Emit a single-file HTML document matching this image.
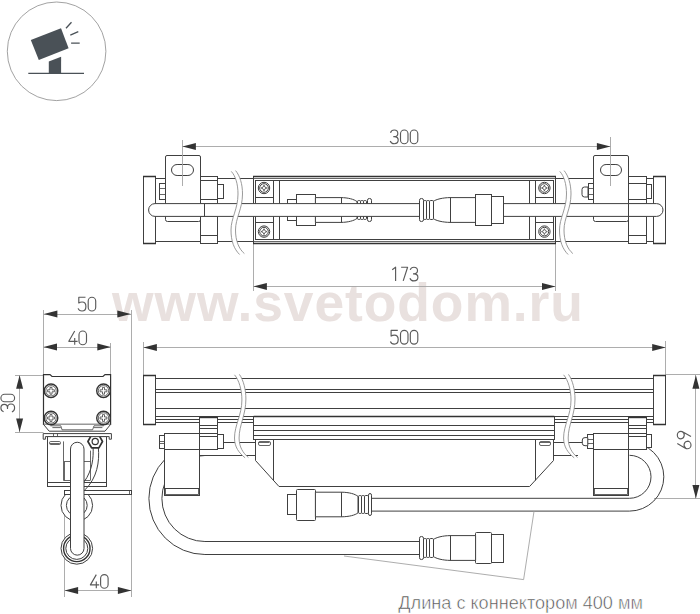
<!DOCTYPE html>
<html><head><meta charset="utf-8"><title>drawing</title>
<style>
html,body{margin:0;padding:0;background:#fff;}
body{width:700px;height:614px;overflow:hidden;font-family:"Liberation Sans",sans-serif;}
svg{display:block}
.m{fill:none;stroke:#404040;stroke-width:1;}
.k{fill:none;stroke:#333;stroke-width:1.4;}
.n{fill:none;stroke:#404040;stroke-width:0.8;}
.w{fill:#fff;}
.d{fill:none;stroke:#a4a4a4;stroke-width:0.9;}
.b{fill:none;stroke:#8e8e8e;stroke-width:0.9;}
</style></head><body>
<svg width="700" height="614" viewBox="0 0 700 614">
<rect width="700" height="614" fill="#fff"/>

<text x="112.1" y="321.4" font-family="Liberation Sans, sans-serif" font-weight="bold" font-size="53.4" fill="#e9e1df" textLength="470.8" lengthAdjust="spacing">www.svetodom.ru</text>
<circle cx="56.6" cy="51.3" r="49.3" fill="none" stroke="#8a8a8a" stroke-width="0.8"/>
<polygon points="48.8,73.6 48.8,61.5 61.1,56.7 61.1,73.6" fill="#4a5157"/>
<polygon points="30.8,39.9 61,28.2 68.6,48.3 38.8,60" fill="#4a5157"/>
<path d="M28.3,73.4H84" stroke="#4a5157" stroke-width="1.2" fill="none"/>
<path d="M66,28.3L71.5,22.3M70.3,35.1L78.3,31.7M71.1,43.2H79.7" stroke="#4a5157" stroke-width="1.3" fill="none"/>
<line class="d" x1="182.4" y1="146.5" x2="610.4" y2="146.5"/>
<line class="d" x1="253.5" y1="243" x2="253.5" y2="291"/>
<line class="d" x1="555.5" y1="243" x2="555.5" y2="291"/>
<line class="d" x1="253.4" y1="286.5" x2="555.5" y2="286.5"/>
<line class="m" x1="155.4" y1="178.5" x2="253.4" y2="178.5"/>
<line class="m" x1="155.4" y1="241.5" x2="253.4" y2="241.5"/>
<line class="m" x1="555.6" y1="178.5" x2="653.4" y2="178.5"/>
<line class="m" x1="555.6" y1="241.5" x2="653.4" y2="241.5"/>
<rect class="m w" x="143.5" y="176.5" width="12.00" height="67.00"/>
<path class="k" d="M143.0,176.5H156.0M143.0,243.5H156.0" style="stroke-width:1.6"/>
<rect class="m w" x="653.5" y="176.5" width="12.00" height="67.00"/>
<path class="k" d="M653.0,176.5H666.0M653.0,243.5H666.0" style="stroke-width:1.6"/>
<rect class="m w" x="159.5" y="183.5" width="6.00" height="16.00"/>
<line class="n" x1="159.4" y1="188.5" x2="165" y2="188.5"/>
<line class="n" x1="159.4" y1="194.5" x2="165" y2="194.5"/>
<path class="m w" d="M167,155.5H199Q200.5,155.5 200.5,157V220Q200.5,221.5 198.5,221.5H167.5Q165.5,221.5 165.5,219.5V157Q165.5,155.5 167,155.5Z"/>
<rect class="m w" x="171.5" y="164.5" width="22.00" height="11.00" rx="5.6"/>
<rect class="m w" x="200.5" y="176.5" width="17.00" height="27.00"/>
<line class="m" x1="200" y1="180.5" x2="217.4" y2="180.5"/>
<line class="m" x1="200" y1="199.5" x2="217.4" y2="199.5"/>
<rect class="m w" x="217.5" y="184.5" width="6.00" height="14.00"/>
<rect class="m w" x="200.5" y="216.5" width="17.00" height="27.00"/>
<line class="m" x1="200" y1="235.5" x2="217.4" y2="235.5"/>
<path class="m w" d="M588,187H584.5Q582,187 582,189.5V194.5Q582,197 584.5,197H588Z"/>
<rect class="m w" x="588.5" y="183.5" width="5.00" height="16.00"/>
<line class="n" x1="588" y1="188.5" x2="593" y2="188.5"/>
<line class="n" x1="588" y1="194.5" x2="593" y2="194.5"/>
<path class="m w" d="M595,155.5H627Q628.5,155.5 628.5,157V219.5Q628.5,221.5 626.5,221.5H595.5Q593.5,221.5 593.5,219.5V157Q593.5,155.5 595,155.5Z"/>
<rect class="m w" x="600.5" y="164.5" width="21.00" height="11.00" rx="5.6"/>
<rect class="m w" x="628.5" y="176.5" width="18.00" height="27.00"/>
<line class="m" x1="628.6" y1="183.5" x2="646" y2="183.5"/>
<line class="m" x1="628.6" y1="199.5" x2="646" y2="199.5"/>
<rect class="m w" x="646.5" y="184.5" width="5.00" height="14.00"/>
<rect class="m w" x="628.5" y="216.5" width="18.00" height="27.00"/>
<line class="m" x1="628.6" y1="235.5" x2="646" y2="235.5"/>
<rect class="m w" x="253.5" y="176.5" width="302.00" height="67.00"/>
<path class="k" d="M253.0,176.5H556.0M253.0,243.5H556.0" style="stroke-width:1.6"/>
<rect class="m" x="255.5" y="180.5" width="298.00" height="59.00"/>
<line class="n" x1="254" y1="178.5" x2="555" y2="178.5"/>
<line class="n" x1="254" y1="241.5" x2="555" y2="241.5"/>
<line class="m" x1="273.5" y1="180" x2="273.5" y2="239.4"/>
<line class="m" x1="279.5" y1="180" x2="279.5" y2="239.4"/>
<line class="m" x1="255" y1="197.5" x2="273.3" y2="197.5"/>
<line class="m" x1="255" y1="222.5" x2="273.3" y2="222.5"/>
<line class="m" x1="529.5" y1="180" x2="529.5" y2="239.4"/>
<line class="m" x1="535.5" y1="180" x2="535.5" y2="239.4"/>
<line class="m" x1="535" y1="197.5" x2="553.8" y2="197.5"/>
<line class="m" x1="535" y1="222.5" x2="553.8" y2="222.5"/>
<circle class="m w" cx="264" cy="188" r="5.7"/>
<circle class="m" cx="264" cy="188" r="4.3"/>
<path class="n" d="M264,185.1L264.9,187.1L266.9,188L264.9,188.9L264,190.9L263.1,188.9L261.1,188L263.1,187.1Z"/>
<circle class="m w" cx="264" cy="231.6" r="5.7"/>
<circle class="m" cx="264" cy="231.6" r="4.3"/>
<path class="n" d="M264,228.7L264.9,230.7L266.9,231.6L264.9,232.5L264,234.5L263.1,232.5L261.1,231.6L263.1,230.7Z"/>
<circle class="m w" cx="544.4" cy="188" r="5.7"/>
<circle class="m" cx="544.4" cy="188" r="4.3"/>
<path class="n" d="M544.4,185.1L545.3,187.1L547.3,188L545.3,188.9L544.4,190.9L543.5,188.9L541.5,188L543.5,187.1Z"/>
<circle class="m w" cx="544.4" cy="231.6" r="5.7"/>
<circle class="m" cx="544.4" cy="231.6" r="4.3"/>
<path class="n" d="M544.4,228.7L545.3,230.7L547.3,231.6L545.3,232.5L544.4,234.5L543.5,232.5L541.5,231.6L543.5,230.7Z"/>
<rect class="m w" x="287.5" y="199.5" width="9.00" height="21.00"/>
<rect class="m w" x="296.5" y="194.5" width="19.00" height="31.00"/>
<path class="m w" d="M315.4,197.6H341C348,197.7 354,199.2 357,201.6V218.4C354,220.8 348,222.3 341,222.4H315.4Z"/>
<line class="m" x1="341.5" y1="197.6" x2="341.5" y2="222.4"/>
<rect class="m w" x="357.5" y="200.5" width="3.00" height="19.00" rx="1.2"/>
<rect class="m w" x="360.5" y="200.5" width="3.00" height="19.00" rx="1.2"/>
<rect class="m w" x="363.5" y="200.5" width="3.00" height="19.00" rx="1.2"/>
<rect class="m w" x="367.5" y="198.5" width="4.00" height="23.00" rx="1.8"/>
<path class="m w" d="M155,203.6H656.6A6.4,6.4 0 0 1 656.6,216.4H155A6.4,6.4 0 0 1 155,203.6Z"/>
<line class="m" x1="204.5" y1="203.6" x2="204.5" y2="216.4"/>
<line class="m" x1="628.5" y1="203.6" x2="628.5" y2="216.4"/>
<path class="m w" d="M433,201.6C436,199.2 443,197.7 450,197.6H475.6V222.4H450C443,222.3 436,220.8 433,218.4Z"/>
<line class="m" x1="450.5" y1="197.6" x2="450.5" y2="222.4"/>
<rect class="m w" x="423.5" y="200.5" width="3.00" height="19.00" rx="1.2"/>
<rect class="m w" x="426.5" y="200.5" width="3.00" height="19.00" rx="1.2"/>
<rect class="m w" x="429.5" y="200.5" width="4.00" height="19.00" rx="1.2"/>
<rect class="m w" x="419.5" y="198.5" width="4.00" height="23.00" rx="1.8"/>
<rect class="m w" x="475.5" y="194.5" width="16.00" height="31.00"/>
<rect class="m w" x="491.5" y="196.5" width="12.00" height="27.00"/>
<path d="M231.3,171.4C235.5,176 238.0,184 238.0,194C238.0,209 231.0,218 231.0,230C231.0,241 234.0,249 239.6,254.5L244.4,253.6C239.0,249 235.5,241 235.5,230C235.5,218 242.5,209 242.5,194C242.5,184 240.0,176 235.6,170.6Z" fill="#fff" stroke="none"/>
<path class="b" d="M231.3,171.4C235.5,176 238.0,184 238.0,194C238.0,209 231.0,218 231.0,230C231.0,241 234.0,249 239.6,254.5"/>
<path class="b" d="M235.6,170.6C240.0,176 242.5,184 242.5,194C242.5,209 235.5,218 235.5,230C235.5,241 239.0,249 244.4,253.6"/>
<path d="M559.8,171.4C564.0,176 566.5,184 566.5,194C566.5,209 559.5,218 559.5,230C559.5,241 562.5,249 568.1,254.5L572.9,253.6C567.5,249 564.0,241 564.0,230C564.0,218 571.0,209 571.0,194C571.0,184 568.5,176 564.1,170.6Z" fill="#fff" stroke="none"/>
<path class="b" d="M559.8,171.4C564.0,176 566.5,184 566.5,194C566.5,209 559.5,218 559.5,230C559.5,241 562.5,249 568.1,254.5"/>
<path class="b" d="M564.1,170.6C568.5,176 571.0,184 571.0,194C571.0,209 564.0,218 564.0,230C564.0,241 567.5,249 572.9,253.6"/>
<line class="d" x1="182.5" y1="140" x2="182.5" y2="186"/>
<line class="d" x1="610.5" y1="137" x2="610.5" y2="186"/>
<polygon points="182.4,146.4 195.9,142.9 195.9,149.9" fill="#333"/>
<polygon points="610.4,146.4 596.9,142.9 596.9,149.9" fill="#333"/>
<polygon points="253.4,286.4 266.9,282.9 266.9,289.9" fill="#333"/>
<polygon points="555.5,286.4 542.0,282.9 542.0,289.9" fill="#333"/>
<g transform="translate(390.2,130.0)" fill="none" stroke="#5a5a5a" stroke-width="1.15" stroke-linecap="butt" stroke-linejoin="round"><path transform="translate(0.00,0)" d="M0.3,2.7C0.9,0.9 2.3,0 4,0C6.2,0 7.6,1.4 7.6,3.4C7.6,5.4 6.2,6.6 4,6.6H3.1M4,6.6C6.4,6.6 8,7.9 8,10.1C8,12.3 6.4,13.7 4,13.7C2,13.7 0.6,12.7 0,11"/><path transform="translate(10.30,0)" d="M0,3.75A3.75,3.75 0 0 1 7.5,3.75V9.95A3.75,3.75 0 0 1 0,9.95Z"/><path transform="translate(20.10,0)" d="M0,3.75A3.75,3.75 0 0 1 7.5,3.75V9.95A3.75,3.75 0 0 1 0,9.95Z"/></g>
<g transform="translate(392.2,267.2)" fill="none" stroke="#5a5a5a" stroke-width="1.15" stroke-linecap="butt" stroke-linejoin="round"><path transform="translate(0.00,0)" d="M0,2.6L3.4,0V13.7"/><path transform="translate(8.90,0)" d="M0,0H6.5L2.1,13.7"/><path transform="translate(17.70,0)" d="M0.3,2.7C0.9,0.9 2.3,0 4,0C6.2,0 7.6,1.4 7.6,3.4C7.6,5.4 6.2,6.6 4,6.6H3.1M4,6.6C6.4,6.6 8,7.9 8,10.1C8,12.3 6.4,13.7 4,13.7C2,13.7 0.6,12.7 0,11"/></g>
<line class="d" x1="143.5" y1="342" x2="143.5" y2="375.5"/>
<line class="d" x1="665.5" y1="341" x2="665.5" y2="375"/>
<line class="d" x1="143.4" y1="347.5" x2="665.7" y2="347.5"/>
<line class="d" x1="665.7" y1="374.5" x2="700" y2="374.5"/>
<line class="d" x1="654" y1="498.5" x2="700" y2="498.5"/>
<line class="d" x1="695.5" y1="375" x2="695.5" y2="498.5"/>
<line class="m" x1="217" y1="442.5" x2="583" y2="442.5"/>
<line class="m" x1="200" y1="455.5" x2="578" y2="455.5"/>
<path class="m" d="M204.9,442.5A56,56 0 0 0 204.9,554.5H420"/>
<path class="m" d="M204.9,455.5A43,43 0 0 0 204.9,541.5H420"/>
<path class="m" d="M629.5,442.5A34.3,34.3 0 0 1 629.5,511.1H371"/>
<path class="m" d="M629.5,455.3A21.5,21.5 0 0 1 629.5,498.3H371"/>
<line class="m" x1="155.5" y1="378.5" x2="653.6" y2="378.5"/>
<line class="m" x1="155.5" y1="389.5" x2="653.6" y2="389.5"/>
<line class="m" x1="155.5" y1="392.5" x2="653.6" y2="392.5"/>
<line class="m" x1="155.5" y1="408.5" x2="653.6" y2="408.5"/>
<line class="m" x1="155.5" y1="416.5" x2="653.6" y2="416.5"/>
<line class="m" x1="155.5" y1="419.5" x2="653.6" y2="419.5"/>
<line class="m" x1="155.5" y1="422.5" x2="653.6" y2="422.5"/>
<rect class="m w" x="143.5" y="375.5" width="12.00" height="49.00"/>
<path class="k" d="M143.0,375.5H156.0M143.0,424.5H156.0" style="stroke-width:1.6"/>
<rect class="m w" x="653.5" y="375.5" width="12.00" height="49.00"/>
<path class="k" d="M653.0,375.5H666.0M653.0,424.5H666.0" style="stroke-width:1.6"/>
<rect class="m w" x="164.5" y="449.5" width="35.00" height="46.00"/>
<line class="m" x1="164.4" y1="488.5" x2="199.8" y2="488.5"/>
<rect class="n" x="165.5" y="488.5" width="33.00" height="6.00"/>
<rect class="m w" x="164.5" y="433.5" width="35.00" height="16.00"/>
<rect class="m w" x="199.5" y="416.5" width="18.00" height="33.00"/>
<line class="k" x1="199.8" y1="417.5" x2="217.4" y2="417.5"/>
<line class="m" x1="199.8" y1="425.5" x2="217.4" y2="425.5"/>
<line class="m" x1="199.8" y1="428.5" x2="217.4" y2="428.5"/>
<line class="m" x1="199.8" y1="433.5" x2="217.4" y2="433.5"/>
<line class="m" x1="199.8" y1="436.5" x2="217.4" y2="436.5"/>
<rect class="m w" x="159.5" y="435.5" width="5.00" height="13.00"/>
<line class="n" x1="159.3" y1="441.5" x2="164.4" y2="441.5"/>
<line class="n" x1="159.3" y1="443.5" x2="164.4" y2="443.5"/>
<rect class="m w" x="217.5" y="434.5" width="6.00" height="14.00"/>
<rect class="m w" x="593.5" y="449.5" width="35.00" height="46.00"/>
<line class="m" x1="593.4" y1="488.5" x2="628.4" y2="488.5"/>
<rect class="n" x="594.5" y="488.5" width="33.00" height="6.00"/>
<rect class="m w" x="593.5" y="433.5" width="35.00" height="16.00"/>
<rect class="m w" x="628.5" y="416.5" width="18.00" height="33.00"/>
<line class="k" x1="628.4" y1="417.5" x2="646.3" y2="417.5"/>
<line class="m" x1="628.4" y1="425.5" x2="646.3" y2="425.5"/>
<line class="m" x1="628.4" y1="428.5" x2="646.3" y2="428.5"/>
<line class="m" x1="628.4" y1="433.5" x2="646.3" y2="433.5"/>
<line class="m" x1="628.4" y1="436.5" x2="646.3" y2="436.5"/>
<rect class="m w" x="646.5" y="434.5" width="5.00" height="13.00"/>
<rect class="m w" x="587.5" y="434.5" width="6.00" height="14.00"/>
<line class="n" x1="587.8" y1="439.5" x2="593.4" y2="439.5"/>
<line class="n" x1="587.8" y1="443.5" x2="593.4" y2="443.5"/>
<path class="m w" d="M587.8,437.6H585Q582.3,437.6 582.3,440V443.3Q582.3,445.7 585,445.7H587.8Z"/>
<path class="m w" d="M255.5,439.4V460.5L279,486.5H529.6L553.5,460.5V439.4Z"/>
<line class="m" x1="273.5" y1="440" x2="273.5" y2="480.5"/>
<line class="m" x1="535.5" y1="440" x2="535.5" y2="480.5"/>
<rect class="n" x="258.5" y="441.5" width="12.00" height="4.00" rx="1.5"/>
<rect class="n" x="539.5" y="441.5" width="11.00" height="4.00" rx="1.5"/>
<line class="n" x1="258.6" y1="442.5" x2="269.4" y2="442.5"/>
<line class="n" x1="539.6" y1="442.5" x2="550" y2="442.5"/>
<rect class="m w" x="253.5" y="416.5" width="301.00" height="23.00"/>
<line class="k" x1="253.6" y1="416.5" x2="554.4" y2="416.5"/>
<line class="m" x1="253.6" y1="425.5" x2="554.4" y2="425.5"/>
<line class="m" x1="253.6" y1="430.5" x2="554.4" y2="430.5"/>
<line class="m" x1="253.6" y1="435.5" x2="554.4" y2="435.5"/>
<path d="M234.5,374.8C239.0,380 241.9,390 241.9,400C241.9,415 234.5,425 234.5,438C234.5,447 239.0,453 245.1,457.8L248.4,457.5C243.0,453 239.1,447 239.1,438C239.1,425 245.9,415 245.9,399C245.9,390 243.5,380 239.4,374.4Z" fill="#fff" stroke="none"/>
<path class="b" d="M234.5,374.8C239.0,380 241.9,390 241.9,400C241.9,415 234.5,425 234.5,438C234.5,447 239.0,453 245.1,457.8"/>
<path class="b" d="M239.4,374.4C243.5,380 245.9,390 245.9,399C245.9,415 239.1,425 239.1,438C239.1,447 243.0,453 248.4,457.5"/>
<path d="M563.6,374.8C568.1,380 571.0,390 571.0,400C571.0,415 563.6,425 563.6,438C563.6,447 568.1,453 574.2,457.8L577.5,457.5C572.1,453 568.2,447 568.2,438C568.2,425 575.0,415 575.0,399C575.0,390 572.6,380 568.5,374.4Z" fill="#fff" stroke="none"/>
<path class="b" d="M563.6,374.8C568.1,380 571.0,390 571.0,400C571.0,415 563.6,425 563.6,438C563.6,447 568.1,453 574.2,457.8"/>
<path class="b" d="M568.5,374.4C572.6,380 575.0,390 575.0,399C575.0,415 568.2,425 568.2,438C568.2,447 572.1,453 577.5,457.5"/>
<rect class="m w" x="287.5" y="494.5" width="9.00" height="20.00"/>
<rect class="m w" x="296.5" y="489.5" width="19.00" height="31.00" rx="1"/>
<path class="m w" d="M315.4,492.2H341.6C349,492.3 355,493.9 358,496.4V512.8C355,515.3 349,516.7 341.6,516.8H315.4Z"/>
<line class="m" x1="341.5" y1="492.2" x2="341.5" y2="516.8"/>
<rect class="m w" x="358.5" y="495.5" width="3.00" height="18.00" rx="1.2"/>
<rect class="m w" x="361.5" y="495.5" width="3.00" height="18.00" rx="1.2"/>
<rect class="m w" x="364.5" y="495.5" width="4.00" height="18.00" rx="1.2"/>
<rect class="m w" x="368.5" y="493.5" width="3.00" height="22.00" rx="1.7"/>
<rect class="m w" x="491.5" y="534.5" width="12.00" height="28.00"/>
<rect class="m w" x="475.5" y="532.5" width="16.00" height="31.00" rx="1"/>
<path class="m w" d="M433,539.8C436,537.3 443,535.7 450,535.6H475.6V560.4H450C443,560.3 436,558.7 433,556.2Z"/>
<line class="m" x1="450.5" y1="535.6" x2="450.5" y2="560.4"/>
<rect class="m w" x="423.5" y="538.5" width="3.00" height="19.00" rx="1.2"/>
<rect class="m w" x="426.5" y="538.5" width="3.00" height="19.00" rx="1.2"/>
<rect class="m w" x="429.5" y="538.5" width="4.00" height="19.00" rx="1.2"/>
<rect class="m w" x="419.5" y="536.5" width="4.00" height="23.00" rx="1.8"/>
<path class="d" d="M344,556L523.6,579.6L534,511.4"/>
<polygon points="143.4,347.5 156.9,344.0 156.9,351.0" fill="#333"/>
<polygon points="665.7,347.5 652.2,344.0 652.2,351.0" fill="#333"/>
<polygon points="695.9,375.2 692.4,388.7 699.4,388.7" fill="#333"/>
<polygon points="695.9,498.4 692.4,484.9 699.4,484.9" fill="#333"/>
<g transform="translate(390.4,330.4)" fill="none" stroke="#5a5a5a" stroke-width="1.15" stroke-linecap="butt" stroke-linejoin="round"><path transform="translate(0.00,0)" d="M7.4,0H0.7V5.7C1.6,5 2.8,4.7 4,4.7C6.4,4.7 7.8,6.3 7.8,9.1C7.8,12.1 6.2,13.7 3.9,13.7C2,13.7 0.6,12.8 0,11.1"/><path transform="translate(10.10,0)" d="M0,3.75A3.75,3.75 0 0 1 7.5,3.75V9.95A3.75,3.75 0 0 1 0,9.95Z"/><path transform="translate(19.90,0)" d="M0,3.75A3.75,3.75 0 0 1 7.5,3.75V9.95A3.75,3.75 0 0 1 0,9.95Z"/></g>
<g transform="translate(677.3,448.8) rotate(-90)" fill="none" stroke="#5a5a5a" stroke-width="1.15" stroke-linecap="butt" stroke-linejoin="round"><path transform="translate(0.00,0)" d="M5.3,0L0.9,7.6C0.3,8.6 0,9.3 0,10.1A3.8,3.6 0 0 0 7.6,10.1A3.8,3.6 0 0 0 0.5,8.6"/><path transform="translate(9.90,0)" d="M2.3,13.7L6.7,6.1C7.3,5.1 7.6,4.4 7.6,3.6A3.8,3.6 0 0 0 0,3.6A3.8,3.6 0 0 0 7.1,5.1"/></g>
<line class="d" x1="43.5" y1="310" x2="43.5" y2="375"/>
<line class="d" x1="131.5" y1="310" x2="131.5" y2="597"/>
<line class="d" x1="110.5" y1="343" x2="110.5" y2="375"/>
<line class="d" x1="43.5" y1="314.5" x2="131.3" y2="314.5"/>
<line class="d" x1="43.5" y1="347.5" x2="110.8" y2="347.5"/>
<line class="d" x1="15" y1="375.5" x2="43.5" y2="375.5"/>
<line class="d" x1="15" y1="432.5" x2="43.5" y2="432.5"/>
<line class="d" x1="19.5" y1="375" x2="19.5" y2="432.2"/>
<line class="d" x1="64.5" y1="495" x2="64.5" y2="597"/>
<line class="d" x1="64.6" y1="590.5" x2="131.4" y2="590.5"/>
<rect class="m w" x="47.5" y="436.5" width="59.00" height="50.00"/>
<line class="m" x1="47.4" y1="482.5" x2="106.9" y2="482.5"/>
<rect class="n" x="49.5" y="441.5" width="11.00" height="3.00" rx="1.2"/>
<line class="n" x1="50" y1="443.5" x2="59.8" y2="443.5"/>
<line class="n" x1="63.5" y1="441.4" x2="63.5" y2="480.3"/>
<line class="n" x1="64.5" y1="461.1" x2="64.5" y2="480.3"/>
<line class="n" x1="64.6" y1="461.5" x2="90.3" y2="461.5"/>
<line class="n" x1="63.4" y1="480.5" x2="90.3" y2="480.5"/>
<line class="n" x1="90.5" y1="450.6" x2="90.5" y2="480.3"/>
<path class="m" d="M93.1,447C93.6,458 92.5,470 84.2,481.8"/>
<path class="m" d="M98.3,447C99.8,462 97,478 85,489.8"/>
<circle class="m w" cx="76.8" cy="505.4" r="15.8"/>
<circle class="m" cx="76.8" cy="505.4" r="10.4"/>
<rect class="m w" x="64.5" y="490.5" width="67.00" height="4.00"/>
<line class="n" x1="129.5" y1="490.3" x2="129.5" y2="494.7"/>
<circle class="m w" cx="76.8" cy="548.4" r="15.8"/>
<circle class="k" cx="76.8" cy="548.4" r="13.2"/>
<circle class="m" cx="76.8" cy="548.4" r="11"/>
<path class="m w" d="M70.5,548.4V449A6.75,6.75 0 0 1 84,449V548.4A6.75,6.75 0 0 1 70.5,548.4Z"/>
<polygon class="k w" style="stroke-width:1.7;stroke-linejoin:round" points="102.5,441.5 98.9,447.8 91.6,447.8 87.9,441.5 91.5,435.2 98.9,435.2"/>
<circle cx="95.2" cy="441.5" r="3.1" fill="#fff" stroke="#333" stroke-width="1.2"/>
<path class="k w" style="stroke-width:1.2" d="M43.5,374.6H50L52,376.5H103L105,374.6H110.6V424.4H43.5Z"/>
<path class="m w" d="M43.5,424.4L49.2,431.2H105L110.6,424.4"/>
<path class="n" d="M50.4,425.8H60.8L62,429.8H92.6L94,425.8H103.8"/>
<path class="n" d="M52.4,427.6H60.8M94,427.6H102.4"/>
<path class="m w" d="M43.2,433.6H111.4V439.2H109.2V436.6H45.4V439.2H43.2Z"/>
<line class="n" x1="53.5" y1="433.6" x2="53.5" y2="436.6"/>
<line class="n" x1="57.5" y1="433.6" x2="57.5" y2="436.6"/>
<circle class="k w" cx="51" cy="390.8" r="6.8"/>
<circle class="n" cx="51" cy="390.8" r="5.2"/>
<path class="n" d="M50.0,387.40000000000003H52.0V389.8H54.4V391.8H52.0V394.2H50.0V391.8H47.6V389.8H50.0Z"/>
<circle class="k w" cx="51" cy="418" r="6.8"/>
<circle class="n" cx="51" cy="418" r="5.2"/>
<path class="n" d="M50.0,414.6H52.0V417.0H54.4V419.0H52.0V421.4H50.0V419.0H47.6V417.0H50.0Z"/>
<circle class="k w" cx="103.5" cy="390.8" r="6.8"/>
<circle class="n" cx="103.5" cy="390.8" r="5.2"/>
<path class="n" d="M102.5,387.40000000000003H104.5V389.8H106.9V391.8H104.5V394.2H102.5V391.8H100.1V389.8H102.5Z"/>
<circle class="k w" cx="103.5" cy="418" r="6.8"/>
<circle class="n" cx="103.5" cy="418" r="5.2"/>
<path class="n" d="M102.5,414.6H104.5V417.0H106.9V419.0H104.5V421.4H102.5V419.0H100.1V417.0H102.5Z"/>
<polygon points="43.9,314.0 57.4,310.5 57.4,317.5" fill="#333"/>
<polygon points="130.8,314.0 117.3,310.5 117.3,317.5" fill="#333"/>
<polygon points="43.5,347.0 57.0,343.5 57.0,350.5" fill="#333"/>
<polygon points="110.8,347.0 97.3,343.5 97.3,350.5" fill="#333"/>
<polygon points="19.6,375.2 16.1,388.7 23.1,388.7" fill="#333"/>
<polygon points="19.6,432.0 16.1,418.5 23.1,418.5" fill="#333"/>
<polygon points="64.6,590.4 78.1,586.9 78.1,593.9" fill="#333"/>
<polygon points="131.4,590.4 117.9,586.9 117.9,593.9" fill="#333"/>
<g transform="translate(78.1,297.3)" fill="none" stroke="#5a5a5a" stroke-width="1.15" stroke-linecap="butt" stroke-linejoin="round"><path transform="translate(0.00,0)" d="M7.4,0H0.7V5.7C1.6,5 2.8,4.7 4,4.7C6.4,4.7 7.8,6.3 7.8,9.1C7.8,12.1 6.2,13.7 3.9,13.7C2,13.7 0.6,12.8 0,11.1"/><path transform="translate(10.10,0)" d="M0,3.75A3.75,3.75 0 0 1 7.5,3.75V9.95A3.75,3.75 0 0 1 0,9.95Z"/></g>
<g transform="translate(68.8,331.0)" fill="none" stroke="#5a5a5a" stroke-width="1.15" stroke-linecap="butt" stroke-linejoin="round"><path transform="translate(0.00,0)" d="M5.9,0L0,10.3H8.8M5.9,6.9V13.7"/><path transform="translate(10.20,0)" d="M0,3.75A3.75,3.75 0 0 1 7.5,3.75V9.95A3.75,3.75 0 0 1 0,9.95Z"/></g>
<g transform="translate(90.4,574.6)" fill="none" stroke="#5a5a5a" stroke-width="1.15" stroke-linecap="butt" stroke-linejoin="round"><path transform="translate(0.00,0)" d="M5.9,0L0,10.3H8.8M5.9,6.9V13.7"/><path transform="translate(10.20,0)" d="M0,3.75A3.75,3.75 0 0 1 7.5,3.75V9.95A3.75,3.75 0 0 1 0,9.95Z"/></g>
<g transform="translate(0.9,412) rotate(-90)" fill="none" stroke="#5a5a5a" stroke-width="1.15" stroke-linecap="butt" stroke-linejoin="round"><path transform="translate(0.00,0)" d="M0.3,2.7C0.9,0.9 2.3,0 4,0C6.2,0 7.6,1.4 7.6,3.4C7.6,5.4 6.2,6.6 4,6.6H3.1M4,6.6C6.4,6.6 8,7.9 8,10.1C8,12.3 6.4,13.7 4,13.7C2,13.7 0.6,12.7 0,11"/><path transform="translate(10.30,0)" d="M0,3.75A3.75,3.75 0 0 1 7.5,3.75V9.95A3.75,3.75 0 0 1 0,9.95Z"/></g>
<text x="398.3" y="609.4" font-family="Liberation Sans, sans-serif" font-size="18.6" fill="#4d4d4d" stroke="#fff" stroke-width="0.55" textLength="244.6" lengthAdjust="spacingAndGlyphs">Длина с коннектором 400 мм</text>
</svg></body></html>
